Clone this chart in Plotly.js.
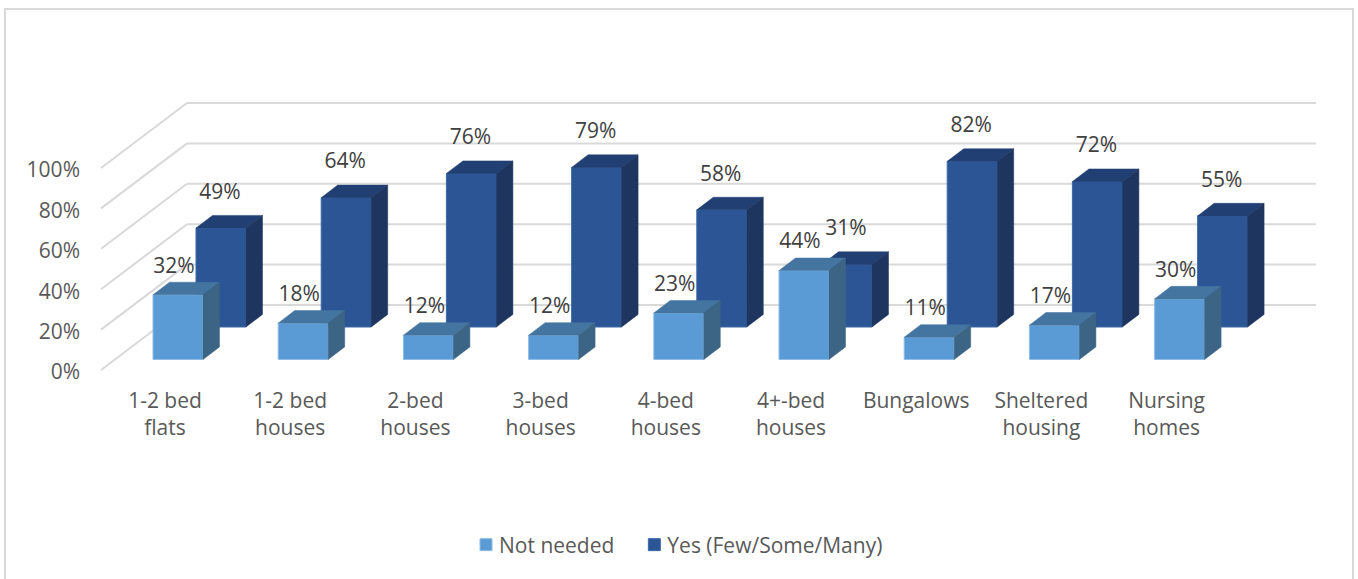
<!DOCTYPE html>
<html><head><meta charset="utf-8">
<script src="https://cdn.plot.ly/plotly-3.0.1.min.js"></script>
<style>html,body{margin:0;padding:0;background:#fff;overflow:hidden}</style></head>
<body><div id="chart" style="width:1358px;height:579px"></div>
<script>
const categories = ["1-2 bed<br>flats","1-2 bed<br>houses","2-bed<br>houses","3-bed<br>houses","4-bed<br>houses","4+-bed<br>houses","Bungalows","Sheltered<br>housing","Nursing<br>homes"];
const notNeeded = [32,18,12,12,23,44,11,17,30];
const yesFew = [49,64,76,79,58,31,82,72,55];
const yTicks = [0,20,40,60,80,100];
const yLabels = ["0%","20%","40%","60%","80%","100%"];

// geometry: pixels per axis unit and oblique depth
const PX_X = 125.2, PX_Y = 2.02;
const L = 88, R = 1330, T = 70, B = 385, W = 1358, H = 579;
const px = v => v / PX_X, py = v => v / PX_Y;
const barW = px(50), depthX = px(16.5), depthY = py(12.6);
const lightBase = py(10.5), darkBase = py(43), darkShift = px(43);
const idx = categories.map((_, i) => i);
const FONT = 'Open Sans';

function faces(vals, shift, base) {
  const top = {x: [], y: []}, side = {x: [], y: []};
  vals.forEach((v, i) => {
    const x0 = i + shift - barW / 2, x1 = i + shift + barW / 2, y0 = base, y1 = base + v;
    top.x.push(x0, x0 + depthX, x1 + depthX, x1, x0, null);
    top.y.push(y1, y1 + depthY, y1 + depthY, y1, y1, null);
    side.x.push(x1, x1 + depthX, x1 + depthX, x1, x1, null);
    side.y.push(y0, y0 + depthY, y1 + depthY, y1, y0, null);
  });
  return {top, side};
}
function poly(f, color) {
  return {type: 'scatter', mode: 'lines', x: f.x, y: f.y, fill: 'toself', fillcolor: color,
    line: {width: 0.5, color: color}, hoverinfo: 'skip', showlegend: false};
}
function bars(name, vals, shift, base, color, edge, rank) {
  return {type: 'bar', name: name, x: idx.map(i => i + shift), y: vals, base: vals.map(() => base),
    width: barW, marker: {color: color, line: {color: edge, width: 1}}, legendrank: rank};
}
function labels(vals, shift, base, dxPx, dyPx) {
  return {type: 'scatter', mode: 'text', x: idx.map(i => i + shift + px(dxPx)),
    y: vals.map(v => base + v + py(dyPx)), text: vals.map(v => v + '%'), textposition: 'middle center',
    textfont: {family: FONT, size: 21, color: '#404040'}, hoverinfo: 'skip', showlegend: false};
}
const fDark = faces(yesFew, darkShift, darkBase), fLight = faces(notNeeded, 0, lightBase);
const traces = [
  bars('Yes (Few/Some/Many)', yesFew, darkShift, darkBase, '#2c5596', '#3d6aa8', 2),
  bars('Not needed', notNeeded, 0, lightBase, '#5b9bd5', '#8fbce6', 1),
  poly(fDark.top, '#213f72'), poly(fDark.side, '#1e355f'),
  poly(fLight.top, '#4475a0'), poly(fLight.side, '#3c6585'),
  labels(yesFew, darkShift, darkBase, -1, 34.5),
  labels(notNeeded, 0, lightBase, -4, 27.5)
];
const wallX = px(187 - 178), frontX = px(101 - 178), endX = px(1316 - 178), wallDy = py(65);
const grid = {color: '#d9d9d9', width: 2};
const shapes = [];
yTicks.forEach(t => {
  shapes.push({type: 'line', layer: 'below', xref: 'x', yref: 'y', x0: frontX, y0: t, x1: wallX, y1: t + wallDy, line: grid});
  shapes.push({type: 'line', layer: 'below', xref: 'x', yref: 'y', x0: wallX, y0: t + wallDy, x1: endX, y1: t + wallDy, line: grid});
});
const pw = R - L, ph = B - T;
shapes.push({type: 'rect', layer: 'below', xref: 'paper', yref: 'paper',
  x0: (5 - L) / pw, x1: (1353 - L) / pw, y0: (B - 590) / ph, y1: (B - 9) / ph,
  line: {color: '#d9d9d9', width: 2}, fillcolor: 'rgba(0,0,0,0)'});

const layout = {
  width: W, height: H, paper_bgcolor: '#fff', plot_bgcolor: 'rgba(0,0,0,0)',
  margin: {l: L, r: W - R, t: T, b: H - B, pad: 0},
  barmode: 'overlay', showlegend: true, shapes: shapes,
  font: {family: FONT, size: 21, color: '#595959'},
  xaxis: {range: [-(178 - L) / PX_X, (R - 178) / PX_X], tickmode: 'array', tickvals: idx.map(i => i - px(13)),
    ticktext: categories, showgrid: false, zeroline: false, showline: false, ticks: '', tickangle: 0,
    ticklabelstandoff: 1, tickfont: {family: FONT, size: 21, color: '#595959'}},
  yaxis: {range: [(370 - B) / PX_Y, (370 - T) / PX_Y], tickmode: 'array', tickvals: yTicks, ticktext: yLabels,
    showgrid: false, zeroline: false, showline: false, ticks: '', ticklabelstandoff: 7, ticklabelshift: 2,
    tickfont: {family: FONT, size: 21, color: '#595959'}},
  legend: {orientation: 'h', xanchor: 'left', x: (451 - L) / pw, yanchor: 'middle', y: (B - 545) / ph,
    itemwidth: 38, font: {family: FONT, size: 21, color: '#595959'}, bgcolor: 'rgba(0,0,0,0)'}
};
function tweakLegend() {
  // sit the legend swatches right next to their text
  document.querySelectorAll('#chart .legend .legendpoints').forEach(g => {
    g.setAttribute('transform', 'translate(11,0)');
  });
}
const gdEl = document.getElementById('chart');
Plotly.newPlot(gdEl, traces, layout, {displayModeBar: false, staticPlot: true}).then(gd => {
  gd.on('plotly_afterplot', tweakLegend);
  tweakLegend();
  setTimeout(tweakLegend, 50);
});
</script></body></html>
